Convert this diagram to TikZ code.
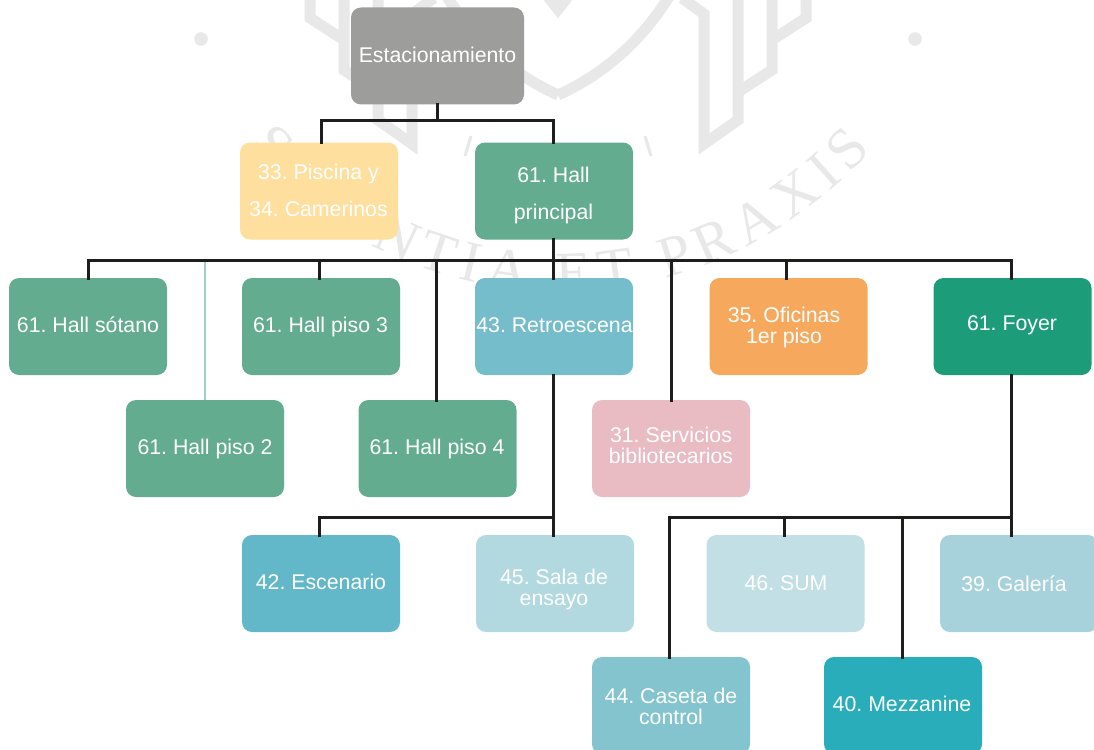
\documentclass[tikz,border=0pt]{standalone}
\usepackage{fontspec}
\setmainfont{Liberation Sans}
\newfontfamily\wmfont{Liberation Serif}
\frenchspacing
\usetikzlibrary{decorations.text,calc}
\definecolor{wm}{HTML}{E8E8E8}
\definecolor{lineink}{HTML}{1D1D1B}
\definecolor{lightlink}{HTML}{9FD0C0}
\definecolor{cGray}{HTML}{9D9D9C}
\definecolor{cYellow}{HTML}{FFDF9D}
\definecolor{cHall}{HTML}{63AC8F}
\definecolor{cRetro}{HTML}{76BDCB}
\definecolor{cOrange}{HTML}{F6A95C}
\definecolor{cFoyer}{HTML}{1C9C79}
\definecolor{cPink}{HTML}{E9BBC3}
\definecolor{cEsc}{HTML}{62B7C8}
\definecolor{cSala}{HTML}{B2D9DF}
\definecolor{cSum}{HTML}{C2DFE5}
\definecolor{cGal}{HTML}{A8D2DB}
\definecolor{cCas}{HTML}{84C4CE}
\definecolor{cMez}{HTML}{29ADBA}
\tikzset{
  boxnode/.style={draw=none,rounded corners=10pt,inner sep=0pt,outer sep=0pt,minimum width=158pt,minimum height=97pt},
  lbl/.style={text=white,align=center,inner sep=0pt},
  tight/.style={font=\fontsize{21.3}{21}\selectfont},
  wide/.style={font=\fontsize{21.3}{37}\selectfont},
  conn/.style={draw=lineink,line width=3pt,line cap=rect},
  wmline/.style={draw=wm,line width=11pt,line join=miter},
}
% #1 name, #2 box centre, #3 fill, #4 label centre, #5 label style, #6 text
\newcommand{\bx}[6]{%
  \node[boxnode,fill=#3] (#1) at #2 {};
  \node[lbl,#5] (#1-t) at #4 {#6};
}
% #1 name of junction, #2 x, #3 y of bus, #4 target node
\newcommand{\drp}[4]{%
  \coordinate (#1) at (#2,#3);
  \draw[conn] (#1) -- (#1 |- #4.north);
}
\begin{document}
\begin{tikzpicture}[x=1pt,y=-1pt]
\useasboundingbox (0,0) rectangle (1094,749);
\clip (0,0) rectangle (1094,749);
\fill[white] (0,0) rectangle (1094,749);

% watermark
\fill[wm] (201,39) circle[radius=6.8pt];
\fill[wm] (915,39) circle[radius=6.8pt];
\foreach \s/\c in {1/0,-1/1116}{
  \begin{scope}[xshift=\c pt,xscale=\s]
  \draw[wmline] (806,-5) -- (806,18) -- (772,40) ;
  \draw[wmline] (772,-5) -- (772,70) -- (738,92);
  \draw[wmline] (738,-5) -- (738,120) -- (704,144) -- (704,14) -- (682,-2);
  \draw[wm,line width=11pt] (558,95) .. controls (600,76) and (640,44) .. (670,-5);
  \fill[wm] (543,-1) -- (558,18) -- (573,-1) -- cycle;
  \draw[wm,line width=3pt] (645,136) -- (651,156);
  \end{scope}
}
\path[postaction={decorate,decoration={text along path,text align={fit to path},
   text={|\wmfont\fontsize{58}{58}\selectfont\color{wm}|SCIENTIA ET PRAXIS}}}]
   (248,146) .. controls (415,340) and (700,340) .. (872,150);

% boxes
\node[boxnode,fill=cGray,minimum width=173pt] (est) at (437.5,56) {};
\node[lbl,tight] (est-t) at (437.5,55) {Estacionamiento};
\bx{pis}{(319,191)}{cYellow}{(318.5,190)}{wide}{33. Piscina y\\34. Camerinos}
\bx{hal}{(554,191)}{cHall}{(553.5,195)}{wide}{61. Hall\\principal}
\bx{sot}{(88,326.5)}{cHall}{(88,325)}{tight}{61. Hall sótano}
\bx{pi3}{(321,326.5)}{cHall}{(320.5,327)}{tight}{61. Hall piso 3}
\bx{ret}{(554,326.5)}{cRetro}{(554.5,325)}{tight}{43. Retroescena}
\bx{ofi}{(788.5,326.5)}{cOrange}{(784,327.5)}{tight}{35. Oficinas\\1er piso}
\bx{foy}{(1012.5,326.5)}{cFoyer}{(1012,325)}{tight}{61. Foyer}
\bx{pi2}{(205,448.5)}{cHall}{(205,449)}{tight}{61. Hall piso 2}
\bx{pi4}{(437.5,448.5)}{cHall}{(437,449)}{tight}{61. Hall piso 4}
\bx{ser}{(671,448.5)}{cPink}{(671,445.5)}{tight}{31. Servicios\\bibliotecarios}
\bx{esc}{(321,583.5)}{cEsc}{(321,582)}{tight}{42. Escenario}
\bx{sal}{(555,583.5)}{cSala}{(554,589)}{tight}{45. Sala de\\ensayo}
\bx{sum}{(785.5,583.5)}{cSum}{(786,583)}{tight}{46. SUM}
\bx{gal}{(1019,583.5)}{cGal}{(1014,584)}{tight}{39. Galería}
\bx{cas}{(671,705.5)}{cCas}{(671,706.5)}{tight}{44. Caseta de\\control}
\bx{mez}{(903,705.5)}{cMez}{(902,704)}{tight}{40. Mezzanine}

% connectors
\coordinate (j1) at (437.5,121);
\draw[conn] (est.south) -- (j1);
\draw[conn] (321,121 |- pis.north) -- (321,121) -- (553,121) -- (553,121 |- hal.north);
\coordinate (j2) at (553,260);
\draw[conn] (hal.south -| j2) -- (j2);
\draw[conn] (88,260 |- sot.north) -- (88,260) -- (1011,260) -- (1011,260 |- foy.north);
\drp{d3}{319}{260}{pi3}
\drp{d5}{553}{260}{ret}
\drp{d6}{786}{260}{ofi}
\drp{d4}{436}{260}{pi4}
\drp{d7}{671}{260}{ser}
\coordinate (d2) at (205,261.5);
\draw[lightlink,line width=1.6pt] (d2) -- (d2 |- pi2.north);
\coordinate (j3) at (553,517);
\draw[conn] (ret.south -| j3) -- (j3 |- sal.north);
\draw[conn] (319,517 |- esc.north) -- (319,517) -- (j3);
\coordinate (j4) at (1011,517);
\draw[conn] (foy.south -| j4) -- (j4 |- gal.north);
\draw[conn] (669,517 |- cas.north) -- (669,517) -- (j4);
\drp{d8}{784}{517}{sum}
\drp{d9}{902}{517}{mez}
\end{tikzpicture}
\end{document}
